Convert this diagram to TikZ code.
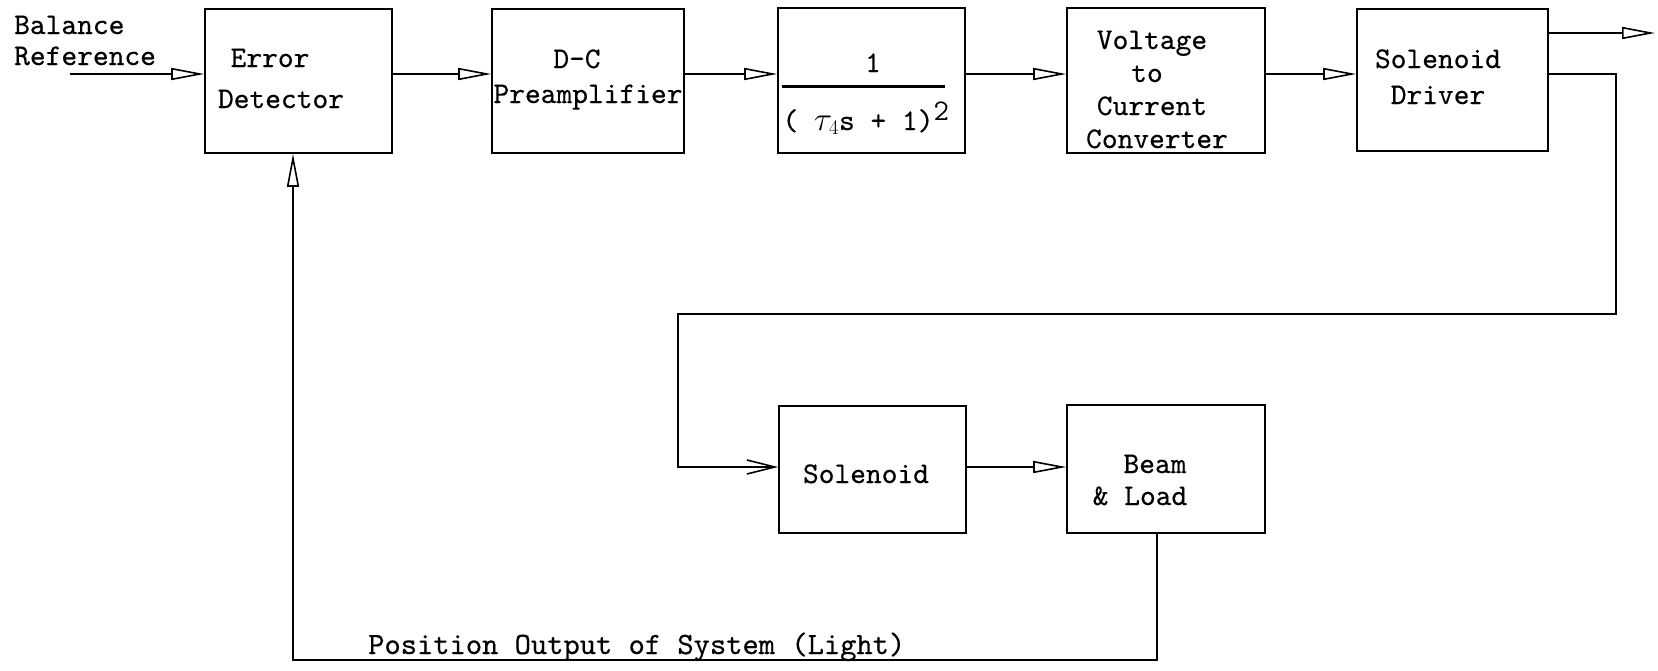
\documentclass[tikz,border=0pt]{standalone}
\usepackage{fontspec}
\usetikzlibrary{arrows.meta}
% typewriter lettering used throughout the block diagram
\newfontfamily\tyface{lmmono10-regular.otf}[FakeBold=0.4]
\newcommand\tyfont{\fontsize{30}{33}\selectfont\tyface}
\begin{document}
\begin{tikzpicture}[x=1pt,y=-1pt,
  blk/.style={draw, line width=1.6pt, inner sep=0pt},
  lbl/.style={anchor=base, inner sep=0pt, font=\tyfont},
  lblw/.style={anchor=base west, inner sep=0pt, font=\tyfont},
  ln/.style={line width=1.6pt},
  arr/.style={ln, -{Triangle[open, length=33pt, width=12pt]}},
  barb/.style={ln, -{Straight Barb[length=28pt, width=14pt]}},
]
\useasboundingbox (0,0) rectangle (1658,670);

% ---- forward path, top row ----
\node[blk, minimum width=187pt, minimum height=144pt] (err)  at (298.5,81) {};
\node[blk, minimum width=192pt, minimum height=144pt] (dc)   at (588,81)   {};
\node[blk, minimum width=187pt, minimum height=145pt] (frac) at (871.5,80.5) {};
\node[blk, minimum width=198pt, minimum height=145pt] (vtc)  at (1166,80.5) {};
\node[blk, minimum width=191pt, minimum height=142pt] (drv)  at (1452.5,80) {};

% ---- plant, bottom row ----
\node[blk, minimum width=187pt, minimum height=127pt] (sol)  at (872.5,469.5) {};
\node[blk, minimum width=198pt, minimum height=128pt] (beam) at (1166,469) {};

% ---- lettering ----
\node[lblw] (t1) at (14,34) {Balance};
\node[lblw] (t2) at (14,65) {Reference};
\node[lbl] (e1) at (270,67)  {Error};
\node[lbl] (e2) at (281,108) {Detector};
\node[lbl] (d1) at (577,68)  {D-C};
\node[lbl] (d2) at (588,103) {Preamplifier};
\node[lbl] (f1) at (873,72)  {1};
\node[lbl] (f2) at (866,130) {( \scalebox{1.35}{$\tau$}\hspace{-3pt}$_{4}$s + 1)$^{\texttt{2}}$};
\draw[line width=3pt] (782,86) -- (945,86);
\node[lbl] (v1) at (1152,49)  {Voltage};
\node[lbl] (v2) at (1147,82)  {to};
\node[lbl] (v3) at (1152,115) {Current};
\node[lbl] (v4) at (1157,148) {Converter};
\node[lbl] (s1) at (1438,68)  {Solenoid};
\node[lbl] (s2) at (1438,104) {Driver};
\node[lbl] (so) at (866,483)  {Solenoid};
\node[lbl] (b1) at (1155,473) {Beam};
\node[lbl] (b2) at (1140,505) {\& Load};
\node[lblw, font=\fontsize{31}{34}\selectfont\tyface] (po) at (368,654) {Position Output of System (Light)};

% ---- connectors ----
\coordinate (r1) at (0,74);
\coordinate (r2) at (0,467);
\coordinate (in) at (70,74);
\coordinate (out) at (1655,33);
\coordinate (c1) at (1616,314);
\coordinate (c2) at (678,467);
\coordinate (bx) at (1157,660);
\coordinate (fb) at (293,660);

\draw[arr] (in) -- (in -| err.west);
\draw[arr] (err.east |- r1) -- (dc.west |- r1);
\draw[arr] (dc.east |- r1) -- (frac.west |- r1);
\draw[arr] (frac.east |- r1) -- (vtc.west |- r1);
\draw[arr] (vtc.east |- r1) -- (drv.west |- r1);
\draw[arr] (drv.east |- out) -- (out);
\draw[barb] (drv.east |- r1) -| (c1) -| (c2) -- (c2 -| sol.west);
\draw[arr] (sol.east |- r2) -- (beam.west |- r2);
\draw[arr] (bx |- beam.south) -- (bx) -- (fb) -- (fb |- err.south);
\end{tikzpicture}
\end{document}
